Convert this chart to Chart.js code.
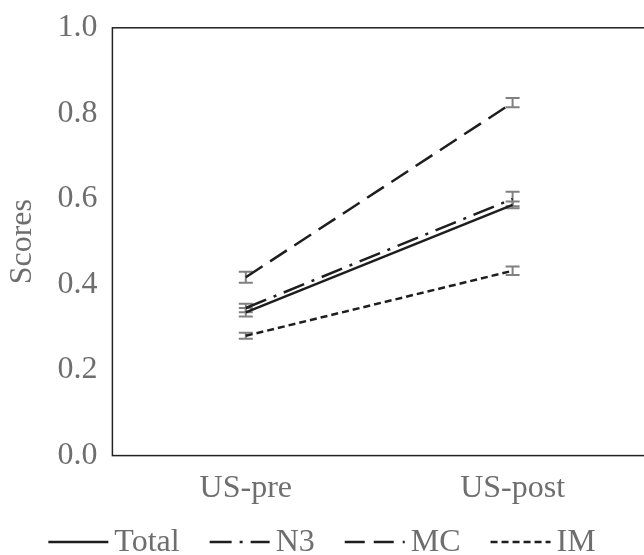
<!DOCTYPE html>
<html>
<head>
<meta charset="utf-8">
<script src="https://cdn.jsdelivr.net/npm/chart.js@4.4.0/dist/chart.umd.min.js"></script>
<style>
  html, body { margin: 0; padding: 0; overflow: hidden; background: #fff; }
  #wrap { width: 646px; height: 555px; position: relative; }
</style>
</head>
<body>
<div id="wrap"><canvas id="chart1"></canvas></div>
<script>
var categories = ['US-pre', 'US-post'];
var yTicks = [0, 0.2, 0.4, 0.6, 0.8, 1.0];

var totalScores = [0.335, 0.586];
var totalErr = [0.010, 0.008];
var n3Scores = [0.345, 0.600];
var n3Err = [0.010, 0.017];
var mcScores = [0.417, 0.825];
var mcErr = [0.013, 0.011];
var imScores = [0.280, 0.432];
var imErr = [0.007, 0.010];

var errors = [totalErr, n3Err, mcErr, imErr];
var fontFamily = 'Liberation Serif';
var textColor = '#6e6e6e';

// error bars, frame around the plot area, and a legend with dashed samples
var extras = {
    id: 'extras',
    beforeDatasetsDraw: function (chart) {
        var ctx = chart.ctx;
        var x = chart.scales.x, y = chart.scales.y;
        ctx.save();
        ctx.strokeStyle = '#808080';
        ctx.lineWidth = 2;
        chart.data.datasets.forEach(function (ds, i) {
            ds.data.forEach(function (v, j) {
                var px = x.getPixelForValue(j);
                var top = y.getPixelForValue(v + errors[i][j]);
                var bot = y.getPixelForValue(v - errors[i][j]);
                ctx.beginPath();
                ctx.moveTo(px, top); ctx.lineTo(px, bot);
                ctx.moveTo(px - 7, top); ctx.lineTo(px + 7, top);
                ctx.moveTo(px - 7, bot); ctx.lineTo(px + 7, bot);
                ctx.stroke();
            });
        });
        ctx.restore();
    },
    afterDraw: function (chart) {
        var a = chart.chartArea, ctx = chart.ctx;
        ctx.save();
        ctx.strokeStyle = '#222';
        ctx.lineWidth = 1.5;
        ctx.strokeRect(a.left, a.top, a.right - a.left, a.bottom - a.top);

        // legend
        var lineLen = 60, gap = 6, spacing = 30;
        ctx.font = '32px "' + fontFamily + '"';
        var widths = chart.data.datasets.map(function (ds) {
            return lineLen + gap + ctx.measureText(ds.label).width;
        });
        var total = widths.reduce(function (s, w) { return s + w; }, 0) + spacing * (widths.length - 1);
        var lx = 322 - total / 2;
        var ly = chart.height - 13;
        ctx.textBaseline = 'middle';
        ctx.textAlign = 'left';
        chart.data.datasets.forEach(function (ds, i) {
            ctx.strokeStyle = ds.borderColor;
            ctx.lineWidth = ds.borderWidth;
            ctx.setLineDash(ds.borderDash);
            ctx.beginPath();
            ctx.moveTo(lx, ly); ctx.lineTo(lx + lineLen, ly);
            ctx.stroke();
            ctx.setLineDash([]);
            ctx.fillStyle = textColor;
            ctx.fillText(ds.label, lx + lineLen + gap, ly + 1);
            lx += widths[i] + spacing;
        });
        ctx.restore();
    }
};

function lineSet(label, data, dash) {
    return {
        label: label,
        data: data,
        borderColor: '#1e1e1e',
        backgroundColor: '#1e1e1e',
        borderWidth: 2.5,
        borderDash: dash,
        pointRadius: 0,
        tension: 0,
        fill: false
    };
}

var ctx1 = document.getElementById('chart1').getContext('2d');
var chart1 = new Chart(ctx1, {
    type: 'line',
    data: {
        labels: categories,
        datasets: [
            lineSet('Total', totalScores, []),
            lineSet('N3', n3Scores, [22, 8, 3, 8]),
            lineSet('MC', mcScores, [20, 9]),
            lineSet('IM', imScores, [7, 4])
        ]
    },
    options: {
        responsive: true,
        maintainAspectRatio: false,
        animation: false,
        layout: { padding: { top: 0, right: 0, left: 1, bottom: 33 } },
        plugins: {
            tooltip: { enabled: false },
            legend: { display: false }
        },
        scales: {
            x: {
                offset: true,
                grid: { display: false, drawTicks: false },
                border: { display: false },
                ticks: {
                    color: textColor,
                    padding: 14,
                    font: { family: fontFamily, size: 32 }
                }
            },
            y: {
                min: 0,
                max: 1,
                afterBuildTicks: function (axis) {
                    axis.ticks = yTicks.map(function (v) { return { value: v }; });
                },
                grid: { display: false, drawTicks: false },
                border: { display: false },
                ticks: {
                    color: textColor,
                    padding: 15,
                    font: { family: fontFamily, size: 32, lineHeight: 0.8 },
                    callback: function (v) { return Number(v).toFixed(1); }
                },
                title: {
                    display: true,
                    text: 'Scores',
                    color: textColor,
                    padding: { top: 2, bottom: 1 },
                    font: { family: fontFamily, size: 32 }
                }
            }
        }
    },
    plugins: [extras]
});
</script>
</body>
</html>
